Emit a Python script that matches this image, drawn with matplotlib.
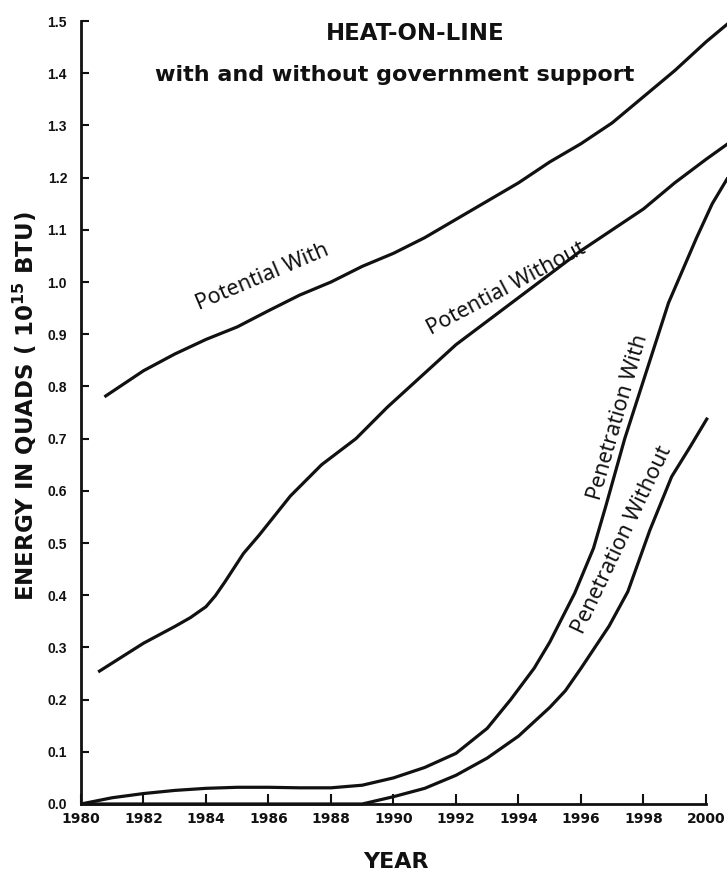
import matplotlib
matplotlib.use("Agg")
import matplotlib.pyplot as plt

# values (quads, 10^15 BTU)
years_pot_with = [1980.75, 1982, 1983, 1984, 1985, 1986, 1987, 1988, 1989, 1990,
                  1991, 1992, 1993, 1994, 1995, 1996, 1997, 1998, 1999, 2000, 2000.7]
pot_with = [0.78, 0.83, 0.862, 0.89, 0.914, 0.945, 0.975, 1.0, 1.03, 1.055,
            1.085, 1.12, 1.155, 1.19, 1.23, 1.265, 1.305, 1.355, 1.405, 1.46, 1.495]

years_pot_without = [1980.55, 1982, 1983, 1983.5, 1984, 1984.3, 1984.6, 1985.2, 1985.7,
                     1986.7, 1987.7, 1988.8, 1989.8, 1990.9, 1992, 1993, 1994, 1995,
                     1996, 1997, 1998, 1999, 2000, 2000.7]
pot_without = [0.253, 0.308, 0.34, 0.357, 0.378, 0.399, 0.425, 0.48, 0.515,
               0.59, 0.65, 0.70, 0.76, 0.82, 0.88, 0.925, 0.97, 1.015,
               1.06, 1.10, 1.14, 1.19, 1.235, 1.265]

years_pen_with = [1980, 1981, 1982, 1983, 1984, 1985, 1986, 1987, 1988, 1989, 1990,
                  1991, 1992, 1993, 1993.75, 1994.5, 1995, 1995.8, 1996.4, 1996.8,
                  1997.4, 1998.1, 1998.8, 1999.7, 2000.2, 2000.7]
pen_with = [0.0, 0.012, 0.02, 0.026, 0.03, 0.032, 0.032, 0.031, 0.031, 0.036, 0.05,
            0.07, 0.097, 0.145, 0.20, 0.26, 0.31, 0.404, 0.49, 0.572,
            0.70, 0.83, 0.96, 1.085, 1.15, 1.2]

years_pen_without = [1980, 1982, 1984, 1986, 1988, 1989, 1990, 1991, 1992, 1993,
                     1994, 1995, 1995.5, 1996, 1996.9, 1997.5, 1998.2, 1998.9, 1999.5,
                     2000.05]
pen_without = [0.0, 0.0, 0.0, 0.0, 0.0, 0.0, 0.014, 0.03, 0.055, 0.088,
               0.13, 0.185, 0.217, 0.26, 0.341, 0.407, 0.524, 0.627, 0.685, 0.74]

x_ticks = [1980, 1982, 1984, 1986, 1988, 1990, 1992, 1994, 1996, 1998, 2000]
y_ticks = [0.0, 0.1, 0.2, 0.3, 0.4, 0.5, 0.6, 0.7, 0.8, 0.9, 1.0, 1.1, 1.2, 1.3, 1.4, 1.5]

fig = plt.figure(figsize=(7.27, 8.76), dpi=100)
ax = fig.add_axes([0.1114, 0.0822, 0.8886, 0.8938])

line_kw = dict(color="#111111", lw=2.3, clip_on=False, solid_capstyle="butt",
               solid_joinstyle="round")
ax.plot(years_pot_with, pot_with, **line_kw)
ax.plot(years_pot_without, pot_without, **line_kw)
ax.plot(years_pen_with, pen_with, **line_kw)
ax.plot(years_pen_without, pen_without, **line_kw)

ax.set_xlim(1980, 2000.672)
ax.set_ylim(0, 1.5)
for side in ["top", "right"]:
    ax.spines[side].set_visible(False)
for side in ["left", "bottom"]:
    ax.spines[side].set_linewidth(2)
    ax.spines[side].set_color("#111111")
ax.spines["bottom"].set_bounds(1980, 2000)

ax.set_xticks(x_ticks, labels=[str(y) for y in x_ticks],
              fontfamily="DejaVu Sans", fontweight="bold", fontsize=10)
ax.set_yticks(y_ticks, labels=[f"{v:.1f}" for v in y_ticks],
              fontfamily="Liberation Sans", fontweight="bold", fontsize=10)
ax.tick_params(axis="x", direction="in", length=7, width=1.5, pad=6, colors="#111111")
ax.tick_params(axis="y", direction="in", length=6, width=1.5, pad=10, colors="#111111")

# curve labels
lab_kw = dict(fontfamily="Noto Sans", fontsize=15.5, ha="center", va="center",
              rotation_mode="anchor", color="#111111")
ax.text(1985.8, 1.010, "Potential With", rotation=23, **lab_kw)
ax.text(1993.6, 0.987, "Potential Without", rotation=28, **lab_kw)
ax.text(1997.2, 0.74, "Penetration With", rotation=74, **lab_kw)
ax.text(1997.33, 0.505, "Penetration Without", rotation=64.5, **lab_kw)

fig.text(415 / 727, 1 - 40 / 876, "HEAT-ON-LINE", ha="center", va="baseline",
         fontsize=16.5, fontweight="bold", color="#111111")
fig.text(395 / 727, 1 - 81 / 876, "with and without government support",
         ha="center", va="baseline", fontsize=16, fontweight="bold", color="#111111")
fig.text(25 / 727, 1 - 406 / 876, "ENERGY IN QUADS ( " + r"$\mathbf{10^{15}}$" + " BTU)",
         rotation=90, ha="center", va="center", fontsize=16.5, fontweight="bold",
         color="#111111")
fig.text(396 / 727, 1 - 862 / 876, "YEAR", ha="center", va="center",
         fontsize=16, fontweight="bold", color="#111111")

plt.savefig("out.png", dpi=100)
plt.close(fig)
